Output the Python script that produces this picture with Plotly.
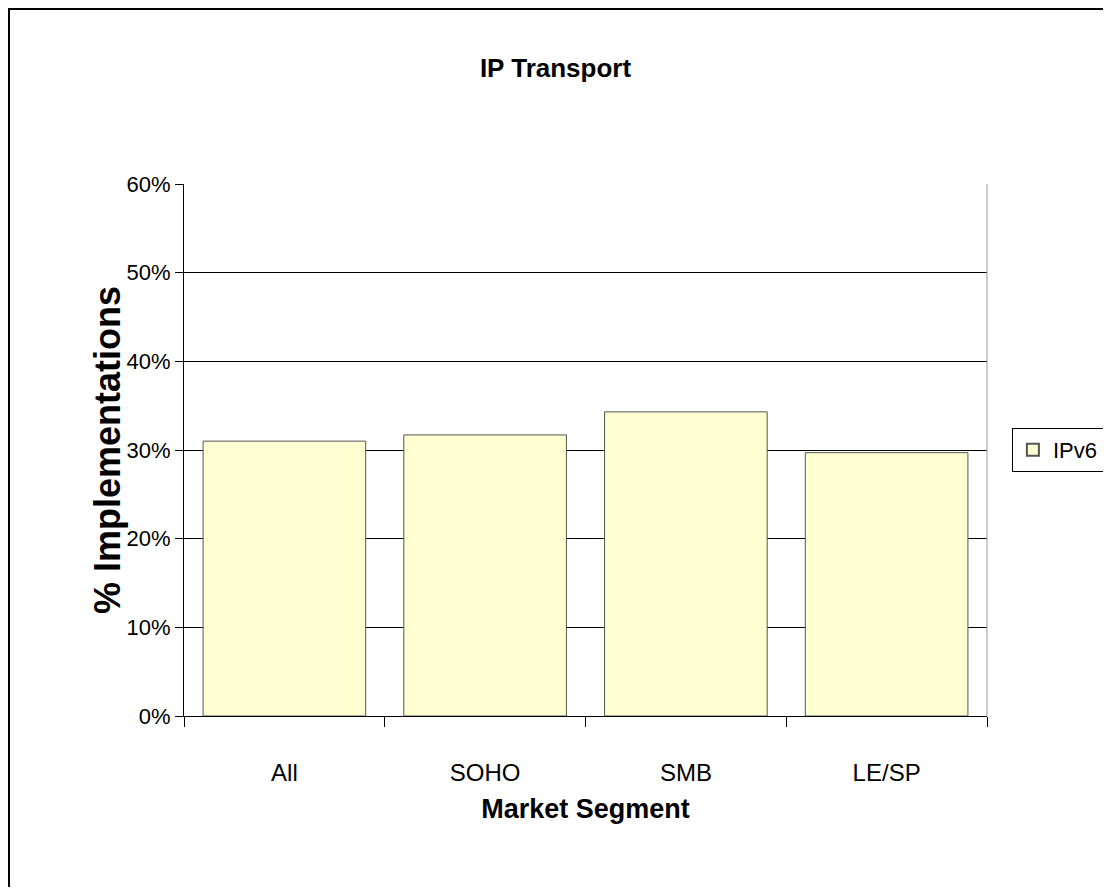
import plotly.graph_objects as go

segments = ["All", "SOHO", "SMB", "LE/SP"]
ipv6 = [0.310, 0.317, 0.343, 0.297]

fig = go.Figure()
fig.add_trace(go.Bar(
    name="IPv6", x=segments, y=ipv6,
    marker=dict(color="#FFFFD2", line=dict(color="#555555", width=1)),
))

font = "Liberation Sans, Arial, sans-serif"

# page has an 8px body margin, so the figure is drawn 8px smaller on each side
fig.update_layout(
    width=1095, height=879,
    margin=dict(l=176, r=116, t=176, b=171, autoexpand=False),
    paper_bgcolor="white", plot_bgcolor="white",
    font=dict(family=font, size=24, color="black"),
    title=dict(text="<b>IP Transport</b>", x=0.5, xanchor="center",
               y=1 - 60 / 879, yanchor="middle", font=dict(size=26)),
    bargap=0.19,
    showlegend=True,
    legend=dict(x=1.031, xanchor="left", y=0.5, yanchor="middle",
                bordercolor="black", borderwidth=1, font=dict(size=22),
                itemsizing="constant"),
    xaxis=dict(
        title=dict(text="<b>Market Segment</b>", standoff=14,
                   font=dict(size=27)),
        showline=True, linecolor="black", linewidth=1,
        ticks="outside", ticklen=10, tickcolor="black",
        tickson="boundaries", showgrid=False,
        ticklabelstandoff=35,
    ),
    yaxis=dict(
        range=[0, 0.6], dtick=0.1, tickformat=".0%",
        tickfont=dict(size=22),
        showline=True, linecolor="black", linewidth=1,
        ticks="outside", ticklen=8, tickcolor="black",
        showgrid=True, gridcolor="black", gridwidth=1,
        zeroline=False,
    ),
    annotations=[
        dict(text="<b>% Implementations</b>", textangle=-90,
             xref="paper", yref="paper", x=-77 / 803, y=0.5,
             xanchor="center", yanchor="middle", showarrow=False,
             font=dict(size=36)),
    ],
    shapes=[
        dict(type="rect", xref="paper", yref="paper",
             x0=-175 / 803, x1=1.3, y0=-0.5, y1=1 + 175 / 532,
             line=dict(color="black", width=2)),
        dict(type="line", xref="paper", yref="paper",
             x0=1, x1=1, y0=0, y1=1, line=dict(color="#999999", width=1)),
    ],
)

fig.write_html("out.html")
